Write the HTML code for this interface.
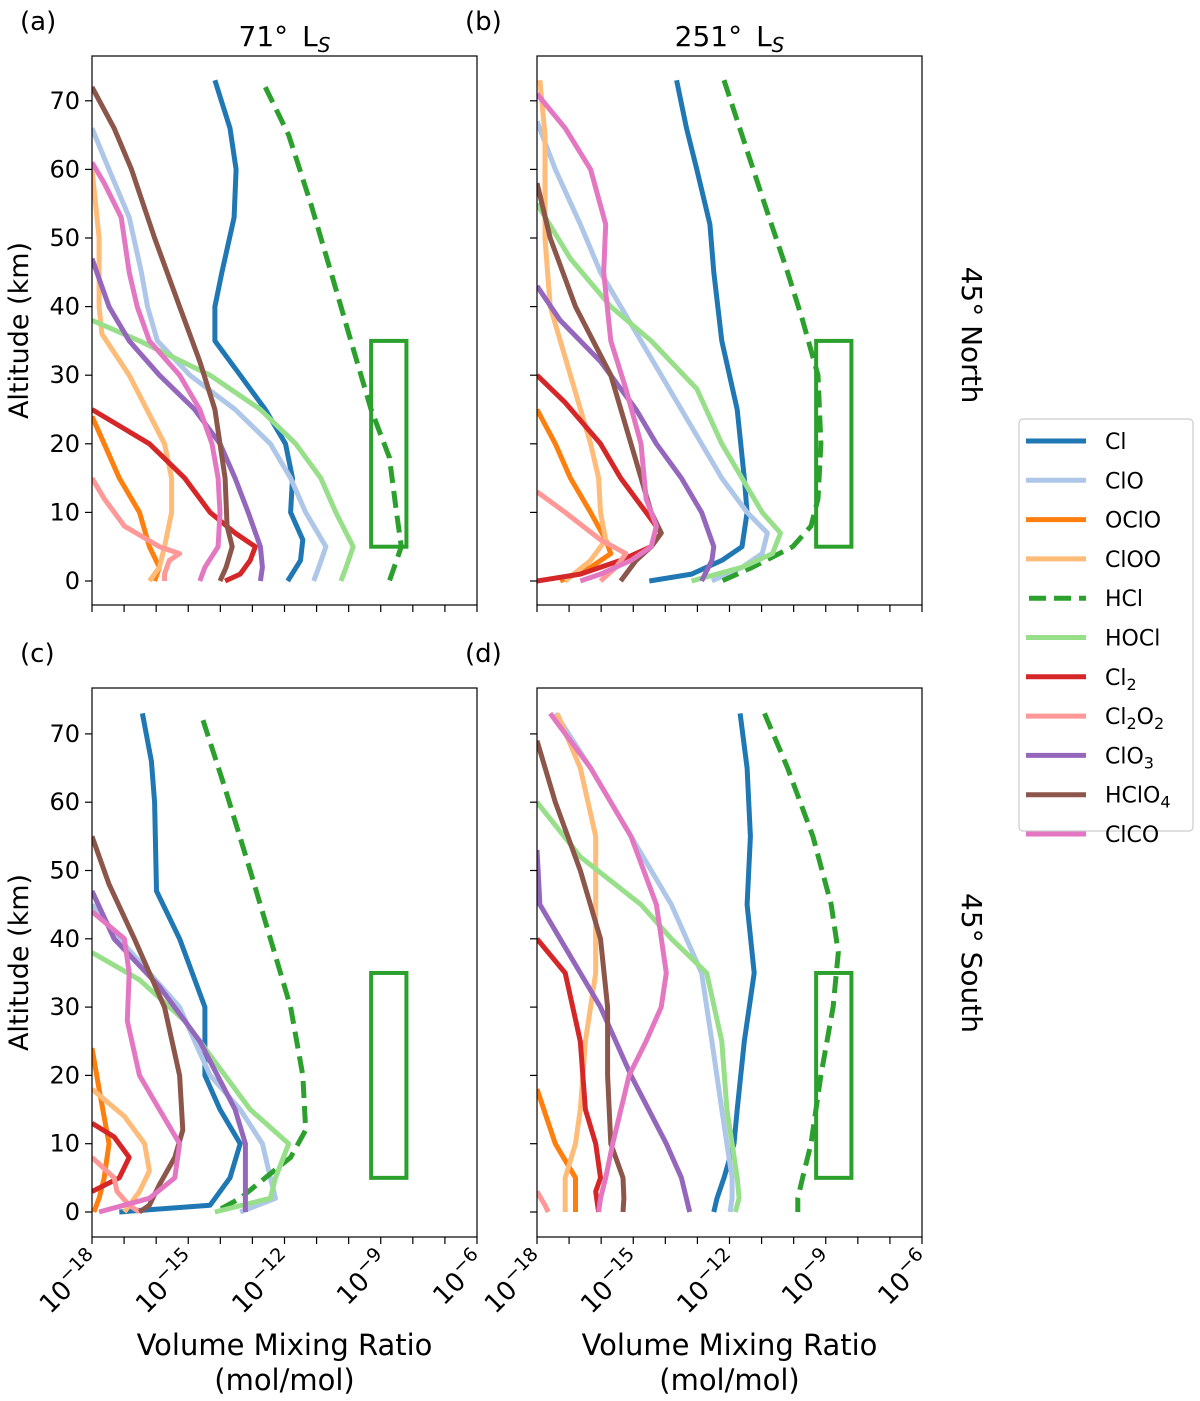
<!DOCTYPE html>
<html><head><meta charset="utf-8">
<style>
body{margin:0;background:#fff;}
svg{display:block;font-family:"DejaVu Sans","Liberation Sans",sans-serif;}
</style></head>
<body>
<svg id="fig" width="1200" height="1401" viewBox="0 0 1200 1401" xmlns="http://www.w3.org/2000/svg"></svg>
<script>
// Species metadata
const species = ["Cl","ClO","OClO","ClOO","HCl","HOCl","Cl2","Cl2O2","ClO3","HClO4","ClCO"];
const colors = ["#1f77b4","#aec7e8","#ff7f0e","#ffbb78","#2ca02c","#98df8a","#d62728","#ff9896","#9467bd","#8c564b","#e377c2"];
const xTickExps = [-18,-15,-12,-9,-6];
const yTicks = [0,10,20,30,40,50,60,70];
const boxRange = {lo:-9.3, hi:-8.2, altLo:5, altHi:35};

// Data: [altitude km, log10 VMR]
const panelA = {
 Cl:[[73,-14.17],[66,-13.70],[60,-13.51],[53,-13.57],[45,-13.95],[40,-14.17],[35,-14.17],[30,-13.38],[25,-12.60],[20,-11.97],[15,-11.75],[10,-11.81],[6,-11.43],[3,-11.50],[0,-11.9]],
 HCl:[[72,-12.60],[65,-11.87],[55,-11.18],[45,-10.55],[35,-9.93],[25,-9.30],[18,-8.73],[10,-8.51],[5,-8.36],[0,-8.73]],
 ClO:[[66,-18],[60,-17.47],[53,-16.84],[45,-16.46],[40,-16.27],[35,-15.96],[30,-14.95],[25,-13.54],[20,-12.44],[15,-11.81],[10,-11.34],[5,-10.71],[2,-10.93],[0,-11.09]],
 HOCl:[[38,-18],[35,-16.52],[30,-14.32],[25,-12.75],[20,-11.65],[15,-10.87],[10,-10.40],[5,-9.86],[2,-10.08],[0,-10.24]],
 HClO4:[[72,-18],[66,-17.31],[60,-16.77],[50,-16.05],[40,-15.27],[32,-14.64],[25,-14.17],[15,-13.85],[8,-13.79],[5,-13.63],[2,-13.82],[0,-14.01]],
 ClO3:[[47,-18],[40,-17.47],[35,-16.84],[30,-15.90],[25,-14.80],[20,-14.01],[15,-13.54],[10,-13.13],[5,-12.75],[2,-12.69],[0,-12.75]],
 ClCO:[[61,-18],[58,-17.62],[53,-17.09],[45,-16.84],[40,-16.59],[35,-16.21],[30,-15.27],[25,-14.64],[20,-14.26],[15,-14.07],[10,-14.01],[5,-14.07],[2,-14.48],[0,-14.64]],
 Cl2:[[25,-18],[20,-16.21],[15,-15.11],[10,-14.32],[7,-13.54],[5,-12.91],[3,-13.07],[1,-13.38],[0,-13.85]],
 OClO:[[24,-18],[20,-17.62],[15,-17.15],[10,-16.52],[5,-16.21],[2,-15.90],[0,-16.05]],
 ClOO:[[60,-18],[50,-17.78],[40,-17.78],[36,-17.69],[30,-16.84],[20,-15.74],[15,-15.52],[10,-15.52],[5,-15.74],[2,-15.90],[0,-16.21]],
 Cl2O2:[[15,-18],[12,-17.62],[8,-16.99],[5,-15.90],[4,-15.27],[3,-15.59],[1,-15.74],[0,-15.74]]
};
const panelB = {
 Cl:[[73,-13.65],[66,-13.34],[60,-13.02],[52,-12.61],[45,-12.49],[35,-12.24],[25,-11.76],[15,-11.54],[10,-11.45],[5,-11.61],[3,-12.24],[1,-13.18],[0,-14.50]],
 HCl:[[73,-12.17],[65,-11.61],[55,-10.91],[45,-10.19],[38,-9.72],[30,-9.24],[20,-9.15],[12,-9.24],[8,-9.46],[5,-10.03],[2,-11.29],[0,-12.24]],
 ClO:[[67,-18],[60,-17.43],[52,-16.65],[45,-16.02],[35,-14.76],[25,-13.50],[15,-12.24],[10,-11.45],[7,-10.82],[4,-10.98],[2,-11.61],[0,-12.55]],
 HOCl:[[55,-18],[47,-16.96],[40,-15.70],[35,-14.44],[28,-13.02],[20,-12.24],[15,-11.61],[10,-10.98],[7,-10.41],[4,-10.66],[2,-11.61],[0,-13.18]],
 HClO4:[[58,-18],[50,-17.59],[40,-16.80],[30,-15.70],[20,-15.07],[10,-14.44],[7,-14.13],[5,-14.44],[3,-14.91],[0,-15.39]],
 ClO3:[[43,-18],[38,-17.28],[32,-16.02],[25,-14.91],[20,-14.28],[15,-13.50],[10,-12.87],[5,-12.49],[3,-12.55],[0,-12.87]],
 ClCO:[[71,-18],[66,-17.12],[60,-16.33],[52,-15.86],[45,-15.92],[35,-15.70],[28,-15.23],[20,-14.76],[12,-14.60],[8,-14.28],[5,-14.44],[3,-15.07],[1,-16.02],[0,-16.65]],
 Cl2:[[30,-18],[26,-17.12],[20,-16.02],[15,-15.39],[10,-14.60],[7,-14.13],[5,-14.44],[3,-15.39],[1,-16.65],[0,-18]],
 OClO:[[25,-18],[20,-17.43],[15,-16.96],[10,-16.33],[6,-15.86],[4,-15.70],[2,-16.33],[0,-17.28]],
 ClOO:[[73,-17.91],[65,-17.75],[50,-17.75],[40,-17.59],[30,-16.96],[20,-16.33],[15,-16.08],[10,-16.02],[6,-15.86],[3,-16.33],[0,-17.12]],
 Cl2O2:[[13,-18],[10,-17.12],[6,-16.02],[4,-15.23],[2,-15.54],[0,-16.02]]
};
const panelC = {
 Cl:[[73,-16.43],[66,-16.15],[60,-16.05],[47,-15.99],[40,-15.27],[30,-14.48],[20,-14.48],[15,-14.01],[10,-13.38],[5,-13.70],[1,-14.32],[0,-17.15]],
 HCl:[[72,-14.54],[62,-13.85],[50,-13.07],[40,-12.44],[30,-11.81],[20,-11.43],[12,-11.34],[8,-11.81],[5,-12.60],[2,-13.38],[0,-14.17]],
 ClO:[[45,-18],[40,-17.15],[35,-16.21],[30,-15.27],[25,-14.80],[20,-14.32],[15,-13.38],[10,-12.69],[5,-12.44],[2,-12.28],[0,-13.38]],
 HOCl:[[38,-18],[34,-16.52],[28,-15.11],[22,-14.17],[15,-13.07],[10,-11.87],[5,-12.28],[2,-12.44],[0,-14.17]],
 HClO4:[[55,-18],[48,-17.47],[40,-16.68],[30,-15.74],[20,-15.27],[12,-15.17],[8,-15.42],[4,-15.90],[1,-16.21],[0,-16.52]],
 ClO3:[[47,-18],[40,-17.31],[33,-15.90],[25,-14.64],[15,-13.54],[10,-13.22],[5,-13.22],[0,-13.22]],
 ClCO:[[44,-18],[40,-16.99],[35,-16.84],[28,-16.90],[20,-16.52],[15,-15.90],[10,-15.27],[5,-15.42],[2,-16.21],[0,-17.78]],
 Cl2:[[13,-18],[11,-17.31],[8,-16.84],[5,-17.15],[3,-18]],
 OClO:[[24,-18],[18,-17.78],[10,-17.47],[5,-17.62],[2,-17.78],[0,-17.94]],
 ClOO:[[18,-18],[14,-16.99],[10,-16.36],[6,-16.21],[3,-16.52],[0,-16.99]],
 Cl2O2:[[8,-18],[5,-17.31],[3,-17.22],[1,-16.84],[0,-16.52]]
};
const panelD = {
 Cl:[[73,-11.67],[65,-11.45],[55,-11.35],[45,-11.45],[35,-11.23],[25,-11.54],[15,-11.76],[10,-11.86],[5,-12.17],[2,-12.39],[0,-12.49]],
 HCl:[[73,-10.91],[65,-10.19],[55,-9.40],[45,-8.83],[38,-8.61],[30,-8.77],[20,-9.15],[10,-9.46],[5,-9.72],[2,-9.87],[0,-9.87]],
 ClO:[[73,-17.43],[65,-16.33],[55,-15.07],[45,-13.81],[35,-12.87],[25,-12.55],[15,-12.24],[10,-12.08],[5,-11.92],[2,-11.92],[0,-11.98]],
 HOCl:[[60,-18],[52,-16.65],[45,-14.76],[40,-13.81],[35,-12.71],[25,-12.24],[15,-12.08],[10,-11.92],[5,-11.76],[2,-11.70],[0,-11.82]],
 HClO4:[[69,-18],[60,-17.43],[50,-16.65],[40,-16.02],[30,-15.80],[20,-15.80],[10,-15.70],[5,-15.32],[2,-15.29],[0,-15.32]],
 ClO3:[[53,-18],[45,-17.91],[40,-17.28],[30,-16.02],[20,-15.07],[10,-13.97],[5,-13.50],[0,-13.24]],
 ClCO:[[73,-17.59],[65,-16.33],[55,-15.07],[45,-14.28],[35,-13.97],[30,-14.13],[25,-14.60],[20,-15.13],[10,-15.64],[5,-15.86],[2,-16.02],[0,-16.08]],
 ClOO:[[73,-17.37],[65,-16.65],[55,-16.17],[45,-16.17],[35,-16.17],[25,-16.49],[15,-16.65],[10,-16.80],[5,-17.12],[0,-17.12]],
 Cl2:[[40,-18],[35,-17.12],[25,-16.65],[15,-16.49],[10,-16.17],[5,-16.02],[3,-16.17],[0,-16.08]],
 OClO:[[18,-18],[10,-17.43],[5,-16.80],[0,-16.80]],
 Cl2O2:[[3,-18],[1,-17.75],[0,-17.65]]
};
const panelData = [panelA, panelB, panelC, panelD];
const panelLetters = ["(a)","(b)","(c)","(d)"];

const NS = "http://www.w3.org/2000/svg";
const svg = document.getElementById("fig");
function mk(tag, attrs, parent){
  const e = document.createElementNS(NS, tag);
  for (const k in attrs) e.setAttribute(k, attrs[k]);
  (parent||svg).appendChild(e);
  return e;
}
const layouts = [
  {x0:92,x1:477,top:56,bottom:605,y0:581,k:6.86,left:true,bottomRow:false},
  {x0:537,x1:922,top:56,bottom:605,y0:581,k:6.86,left:false,bottomRow:false},
  {x0:92,x1:477,top:688,bottom:1237,y0:1212,k:6.83,left:true,bottomRow:true},
  {x0:537,x1:922,top:688,bottom:1237,y0:1212,k:6.83,left:false,bottomRow:true}
];
const xMin=-18, xMax=-6;

layouts.forEach((L, pi) => {
  const xs = v => L.x0 + (v - xMin) / (xMax - xMin) * (L.x1 - L.x0);
  const ys = a => L.y0 - a * L.k;
  const g = mk("g", {});
  
  
  const cid = "clip" + pi;
  const cp = mk("clipPath", {id: cid}, g);
  mk("rect", {x:L.x0, y:L.top, width:L.x1-L.x0, height:L.bottom-L.top}, cp);
  const lines = mk("g", {"clip-path":"url(#"+cid+")"}, g);
  const r = mk("rect", {x:xs(boxRange.lo), y:ys(boxRange.altHi), width:xs(boxRange.hi)-xs(boxRange.lo), height:ys(boxRange.altLo)-ys(boxRange.altHi), fill:"none", stroke:"#2ca02c", "stroke-width":4}, lines);
  
  
  const D = panelData[pi];
  species.forEach((s, si) => {
    const pts = D[s]; if (!pts) return;
    const d = pts.map((p,i)=>(i?"L":"M")+xs(p[1]).toFixed(1)+","+ys(p[0]).toFixed(1)).join(" ");
    const attrs = {d:d, fill:"none", stroke:colors[si], "stroke-width":5, "stroke-linejoin":"round"};
    if (s==="HCl") attrs["stroke-dasharray"]="17,8";
    const p = mk("path", attrs, lines);
    
    
  });
  const frame = mk("rect", {x:L.x0, y:L.top, width:L.x1-L.x0, height:L.bottom-L.top, fill:"none", stroke:"#000", "stroke-width":1.2}, g);
  
  
  for (let e = xMin; e <= xMax; e++) {
    const x = xs(e);
    mk("line", {x1:x, x2:x, y1:L.bottom, y2:L.bottom+7, stroke:"#000", "stroke-width":1.2}, g);
  }
  if (L.bottomRow) {
    xTickExps.forEach(e => {
      const x = xs(e);
      const ax = x+10, ay = L.bottom+26;
      const t = mk("text", {x:ax, y:ay, "text-anchor":"end", "font-size":26, transform:"rotate(-45 "+ax+" "+ay+")"}, g);
      
      
      t.appendChild(document.createTextNode("10"));
      const sp = mk("tspan", {dy:-11, "font-size":19}, t);
      sp.textContent = "\u2212" + Math.abs(e);
    });
    const cx = (L.x0+L.x1)/2;
    const a1 = mk("text", {x:cx, y:1355, "text-anchor":"middle", "font-size":29}, g);
    
    
    a1.textContent = "Volume Mixing Ratio";
    const a2 = mk("text", {x:cx, y:1390, "text-anchor":"middle", "font-size":29}, g);
    
    
    a2.textContent = "(mol/mol)";
  }
  yTicks.forEach(v => {
    const y = ys(v);
    mk("line", {x1:L.x0-7, x2:L.x0, y1:y, y2:y, stroke:"#000", "stroke-width":1.2}, g);
    if (L.left) {
      const t = mk("text", {x:L.x0-12, y:y+8, "text-anchor":"end", "font-size":24}, g);
      
      
      t.textContent = v;
    }
  });
  if (L.left) {
    const cy = (L.top+L.bottom)/2;
    const t = mk("text", {x:28, y:cy, "text-anchor":"middle", "font-size":27, transform:"rotate(-90 28 "+cy+")"}, g);
    
    
    t.textContent = "Altitude (km)";
  }
  const lt = mk("text", {x:L.x0-72, y:L.top-26, "font-size":26}, g);
  
  
  lt.textContent = panelLetters[pi];
  if (!L.bottomRow) {
    const tt = mk("text", {x:(L.x0+L.x1)/2, y:46, "text-anchor":"middle", "font-size":28}, g);
    
    
    tt.appendChild(document.createTextNode((pi===0?"71":"251")+"\u00b0 L"));
    const sp = mk("tspan", {dy:6, "font-size":20, "font-style":"italic"}, tt);
    sp.textContent = "S";
    tt.firstChild.textContent = (pi===0?"71":"251")+"\u00b0\u2002L";
  }
});
[["45\u00b0 North",335],["45\u00b0 South",963]].forEach(([txt,cy]) => {
  const t = mk("text", {x:962, y:cy, "text-anchor":"middle", "font-size":28, transform:"rotate(90 962 "+cy+")"});
  
  
  t.textContent = txt;
});
const lg = mk("g", {});


mk("rect", {x:1019, y:419, width:174, height:412, rx:4, fill:"#fff", stroke:"#ccc", "stroke-width":1.2}, lg);
const labels = [["Cl"],["ClO"],["OClO"],["ClOO"],["HCl"],["HOCl"],["Cl","2"],["Cl","2","O","2"],["ClO","3"],["HClO","4"],["ClCO"]];
species.forEach((s, i) => {
  const y = 441 + i*39.3;
  const ln = mk("line", {x1:1026, x2:1086, y1:y, y2:y, stroke:colors[i], "stroke-width":5}, lg);
  if (s==="HCl") { ln.setAttribute("stroke-dasharray","17,8"); ln.setAttribute("x1",1029); }
  
  
  const t = mk("text", {x:1105, y:y+8, "font-size":22}, lg);
  
  
  labels[i].forEach((part, j) => {
    const sp = mk("tspan", j%2 ? {"font-size":16, dy:5} : (j>0 ? {dy:-5} : {}), t);
    sp.textContent = part;
  });
});
</script>
</body></html>
